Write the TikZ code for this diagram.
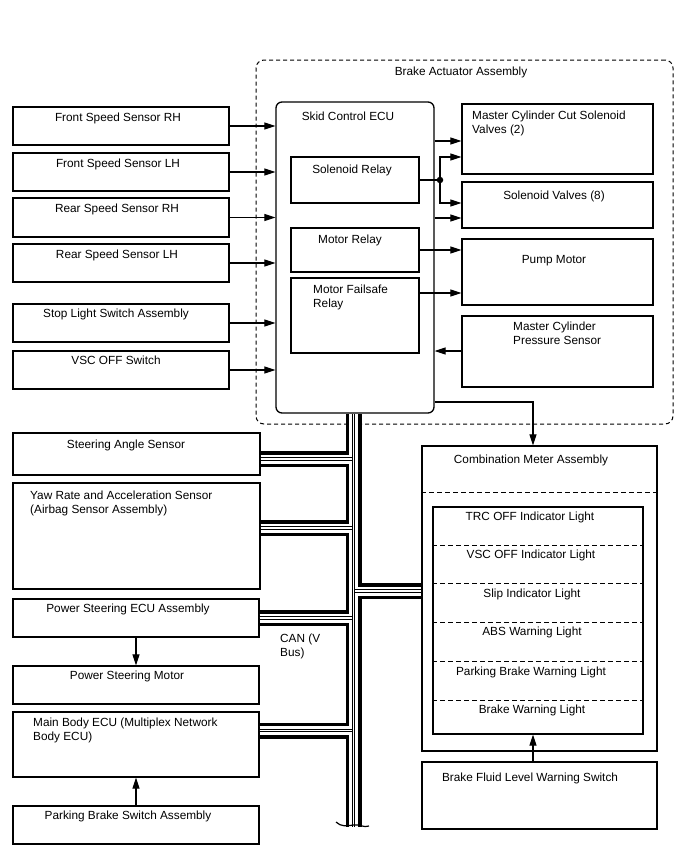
\documentclass[tikz,border=0pt]{standalone}
\usepackage{fontspec}
\setmainfont{Liberation Sans}
\usetikzlibrary{arrows.meta,fit}
\newcommand\drawbox[6][]{\node[box,#1,fit={(#3,#4) (#5,#6)}] (#2) {};}
\begin{document}
\begin{tikzpicture}[x=1pt,y=-1pt,
  box/.style={draw, line width=1.3pt, inner sep=0pt},
  dashbox/.style={draw, line width=1pt, dash pattern=on 4pt off 3pt, rounded corners=8pt},
  divider/.style={line width=1pt, dash pattern=on 5pt off 3pt},
  txt/.style={inner sep=0pt, font=\fontsize{11.8}{14}\selectfont},
  mtxt/.style={txt, align=left, anchor=north west},
  arr/.style={line width=1.1pt, -{Triangle[length=11pt,width=7pt]}},
  wire/.style={line width=1.1pt}]
\fill[white] (0,0) rectangle (688,852);
\useasboundingbox (0,0) rectangle (688,852);

% ---------- Brake actuator assembly ----------
\drawbox[dashbox]{act}{256}{60}{673}{424}
\node[txt, anchor=base] (t-act) at (461,75.2) {Brake Actuator Assembly};

\drawbox[rounded corners=6pt]{ecu}{276}{102}{434}{413}
\node[txt, anchor=base] (t-ecu) at (348,120.2) {Skid Control ECU};
\drawbox{solr}{291}{157}{419}{203}
\node[txt, anchor=base] (t-solr) at (352,173.2) {Solenoid Relay};
\drawbox{motr}{291}{228}{419}{272}
\node[txt, anchor=base] (t-motr) at (350,243.2) {Motor Relay};
\drawbox{mfr}{291}{278}{419}{353}
\node[mtxt] (t-mfr) at (313,284.5) {Motor Failsafe\\Relay};

\drawbox{mcc}{462}{104}{653}{174}
\node[mtxt] (t-mcc) at (472,110.5) {Master Cylinder Cut Solenoid\\Valves (2)};
\drawbox{sv}{462}{182}{653}{228}
\node[txt, anchor=base] (t-sv) at (554,199.2) {Solenoid Valves (8)};
\drawbox{pump}{462}{239}{653}{305}
\node[txt, anchor=base] (t-pump) at (554,263.2) {Pump Motor};
\drawbox{mcps}{462}{316}{653}{387}
\node[mtxt] (t-mcps) at (513,321.5) {Master Cylinder\\Pressure Sensor};

% ---------- left sensors ----------
\drawbox{fsrh}{13}{107}{229}{145}
\node[txt, anchor=base] (t-fsrh) at (118,121.2) {Front Speed Sensor RH};
\drawbox{fslh}{13}{153}{229}{191}
\node[txt, anchor=base] (t-fslh) at (118,167.2) {Front Speed Sensor LH};
\drawbox{rsrh}{13}{198}{229}{237}
\node[txt, anchor=base] (t-rsrh) at (117,212.2) {Rear Speed Sensor RH};
\drawbox{rslh}{13}{244}{229}{282}
\node[txt, anchor=base] (t-rslh) at (117,258.2) {Rear Speed Sensor LH};
\drawbox{stop}{13}{304}{229}{342}
\node[txt, anchor=base] (t-stop) at (116,317.2) {Stop Light Switch Assembly};
\drawbox{vsc}{13}{351}{229}{389}
\node[txt, anchor=base] (t-vsc) at (116,364.2) {VSC OFF Switch};

% ---------- lower left ----------
\drawbox{steer}{13}{433}{260}{475}
\node[txt, anchor=base] (t-steer) at (126,448.2) {Steering Angle Sensor};
\drawbox{yaw}{13}{483}{260}{589}
\node[mtxt] (t-yaw) at (30,490.5) {Yaw Rate and Acceleration Sensor\\(Airbag Sensor Assembly)};
\drawbox{pse}{13}{599}{259}{637}
\node[txt, anchor=base] (t-pse) at (128,612.2) {Power Steering ECU Assembly};
\drawbox{psm}{13}{666}{259}{704}
\node[txt, anchor=base] (t-psm) at (127,679.2) {Power Steering Motor};
\drawbox{mbe}{13}{712}{259}{777}
\node[mtxt] (t-mbe) at (33,717.5) {Main Body ECU (Multiplex Network\\Body ECU)};
\drawbox{pbs}{13}{806}{259}{844}
\node[txt, anchor=base] (t-pbs) at (128,819.2) {Parking Brake Switch Assembly};
\node[mtxt] (t-can) at (280,633.5) {CAN (V\\Bus)};

% ---------- combination meter ----------
\drawbox{comb}{422}{446}{657}{751}
\node[txt, anchor=base] (t-comb) at (531,463.2) {Combination Meter Assembly};
\coordinate (d0) at (0,492);
\draw[divider] (comb.west |- d0) -- (comb.east |- d0);
\drawbox{lights}{433}{507}{643}{734}
\foreach \yy in {545,583,622,661,700} {
  \coordinate (dl) at (0,\yy);
  \draw[divider] (lights.west |- dl) -- (lights.east |- dl);
}
\node[txt, anchor=base] (t-l1) at (530,520.2) {TRC OFF Indicator Light};
\node[txt, anchor=base] (t-l2) at (531,558.2) {VSC OFF Indicator Light};
\node[txt, anchor=base] (t-l3) at (532,597.2) {Slip Indicator Light};
\node[txt, anchor=base] (t-l4) at (532,635.2) {ABS Warning Light};
\node[txt, anchor=base] (t-l5) at (531,675.2) {Parking Brake Warning Light};
\node[txt, anchor=base] (t-l6) at (532,713.2) {Brake Warning Light};
\drawbox{bfl}{422}{762}{657}{829}
\node[txt, anchor=base] (t-bfl) at (530,781.2) {Brake Fluid Level Warning Switch};

% ---------- arrows ----------
\foreach \n in {fsrh,fslh,rsrh,rslh,stop,vsc} {
  \draw[arr] (\n.east) -- (\n.east -| ecu.west);
}
\coordinate (y141) at (0,141);
\coordinate (y157) at (0,157);
\coordinate (y203) at (0,203);
\coordinate (y218) at (0,218);
\coordinate (y293) at (0,293);
\coordinate (y351) at (0,351);
\coordinate (y402) at (0,402);
\coordinate (x533) at (533,0);
\node[circle, fill, inner sep=0pt, minimum size=6.5pt] (dot) at (440,180) {};
\draw[arr] (ecu.east |- y141) -- (mcc.west |- y141);
\draw[wire] (solr.east) -- (dot.center);
\draw[arr] (dot.center) |- (mcc.west |- y157);
\draw[arr] (dot.center) |- (sv.west |- y203);
\draw[arr] (ecu.east |- y218) -- (sv.west |- y218);
\draw[arr] (motr.east) -- (motr.east -| pump.west);
\draw[arr] (mfr.east |- y293) -- (pump.west |- y293);
\draw[arr] (mcps.west |- y351) -- (ecu.east |- y351);
\draw[arr] (ecu.east |- y402) -| (comb.north -| x533);
\draw[arr] (pse.south) -- (psm.north);
\draw[arr] (pbs.north) -- (mbe.south);
\draw[arr] (bfl.north -| x533) -- (lights.south -| x533);

% ---------- CAN bus ----------
\coordinate (tt) at (353.5,414);
\coordinate (tb) at (353.5,827);
\coordinate (b1) at (353.5,459);
\coordinate (b2) at (353.5,528);
\coordinate (b3) at (353.5,618);
\coordinate (b4) at (353.5,730.5);
\coordinate (b5) at (353.5,591);
\foreach \w/\c in {16/black,9/white} {
  \draw[line width=\w pt, \c] (tt) -- (tb)
    (steer.east |- b1) -- (b1) (yaw.east |- b2) -- (b2)
    (pse.east |- b3) -- (b3) (mbe.east |- b4) -- (b4)
    (b5) -- (comb.west |- b5);
}
\foreach \w/\c in {3.5/black,1.2/white} {
  \draw[line width=\w pt, \c] (tt) -- (tb)
    (steer.east |- b1) -- ([xshift=-1.5pt]b1) (yaw.east |- b2) -- ([xshift=-1.5pt]b2)
    (pse.east |- b3) -- ([xshift=-1.5pt]b3) (mbe.east |- b4) -- ([xshift=-1.5pt]b4)
    ([xshift=1.5pt]b5) -- (comb.west |- b5);
}
\draw[line width=1.2pt] (336,822) .. controls (341,827) and (347,826) .. (353.5,825)
  .. controls (359,824) and (364,828) .. (369,826);
\end{tikzpicture}
\end{document}
